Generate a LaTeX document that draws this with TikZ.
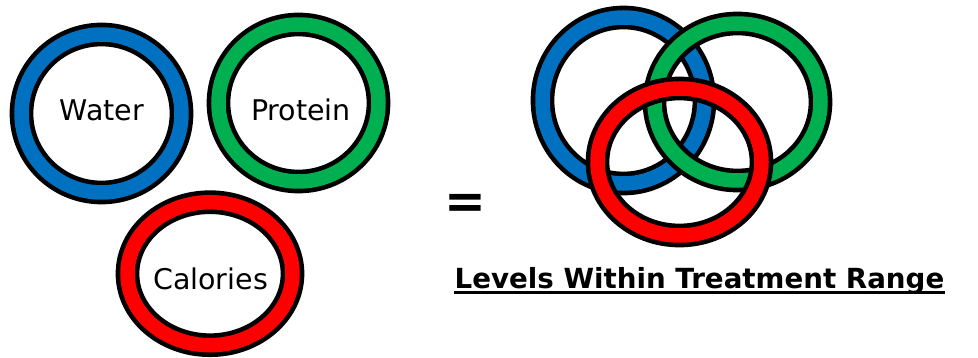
\documentclass[tikz,border=0pt]{standalone}
\usepackage{fontspec}
\setmainfont{DejaVu Sans}
\usetikzlibrary{shapes.geometric}
\definecolor{ringblue}{RGB}{0,112,192}
\definecolor{ringgreen}{RGB}{0,176,80}
\definecolor{ringred}{RGB}{255,0,0}

\begin{document}
\begin{tikzpicture}[
  x=1pt, y=-1pt,
  ring/.style={ellipse, draw=black, line width=4.6pt, double=#1, double distance=14.5pt, inner sep=0pt, outer sep=0pt},
  word/.style={font=\fontsize{28.5}{34}\selectfont, inner sep=0pt, anchor=base},
  caption/.style={font=\fontsize{27.7}{33}\selectfont\bfseries, inner sep=0pt, anchor=base}
]
\useasboundingbox (0,0) rectangle (978,358);

% =================== separate rings ===================
\node[ring=ringblue, minimum width=160pt, minimum height=158pt] (water) at (101.5,113.5) {};
\node[ring=ringgreen, minimum width=160pt, minimum height=157pt] (protein) at (298.5,103) {};
\node[ring=ringred, minimum width=165pt, minimum height=143pt] (calories) at (210,273.7) {};
\node[word] (watertxt) at (102,121) {Water};
\node[word] (proteintxt) at (301,120.7) {Protein};
\node[word] (caloriestxt) at (210.5,290) {Calories};

% =================== equals ===================
\node[font=\fontsize{50}{50}\selectfont\bfseries, inner sep=0pt] (equals) at (465.5,206) {=};

% =================== linked rings ===================
\node[ring=ringblue, minimum width=162pt, minimum height=166pt] (bluering) at (623.5,100.5) {};
\node[ring=ringgreen, minimum width=166pt, minimum height=157pt] (greenring) at (737.5,102) {};
\node[ring=ringred, minimum width=164pt, minimum height=147pt] (redring) at (679.5,162) {};

% caption with underline
\node[caption] (levels) at (699.5,289) {Levels Within Treatment Range};
\draw[line width=2.6pt] ([yshift=-3.3pt]levels.base west) -- ([yshift=-3.3pt]levels.base east);

\end{tikzpicture}
\end{document}
